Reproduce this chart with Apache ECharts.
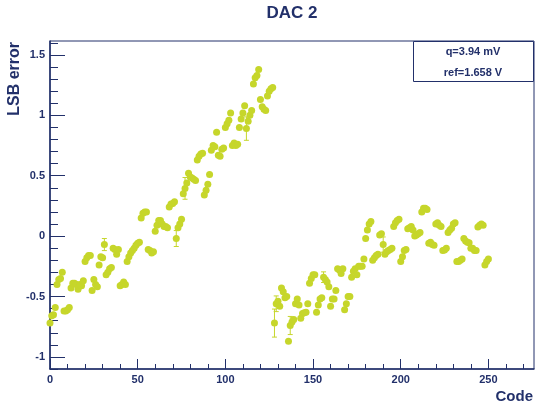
<!DOCTYPE html>
<html>
<head>
<meta charset="utf-8">
<script src="https://cdn.jsdelivr.net/npm/echarts@6/dist/echarts.min.js"></script>
<style>
  html, body { margin: 0; padding: 0; background: #ffffff; }
  #chart { width: 535px; height: 404px; }
</style>
</head>
<body>
<div id="chart"></div>
<script>
// Integral non-linearity of DAC 2: LSB error for each input code (0..250)
const lsbError = [
  -0.72, -0.66, -0.65, -0.59, -0.40, -0.36, -0.35, -0.30,   // 0-7
  -0.62, -0.62, -0.61, -0.59, -0.43, -0.39, -0.39, -0.40,   // 8-15
  -0.44, -0.40, -0.41, -0.37, -0.21, -0.18, -0.16, -0.16,   // 16-23
  -0.45, -0.36, -0.40, -0.42, -0.24, -0.17, -0.18, -0.07,   // 24-31
  -0.32, -0.30, -0.27, -0.26, -0.10, -0.11, -0.15, -0.11,   // 32-39
  -0.41, -0.40, -0.38, -0.40, -0.21, -0.17, -0.14, -0.12,   // 40-47
  -0.10, -0.075, -0.06, -0.05, 0.15, 0.19, 0.20, 0.20,      // 48-55
  -0.11, -0.12, -0.14, -0.13, 0.04, 0.09, 0.13, 0.13,       // 56-63
  0.10, 0.08, 0.08, 0.07, 0.24, 0.265, 0.27, 0.285,         // 64-71
  -0.02, 0.07, 0.10, 0.14, 0.35, 0.395, 0.44, 0.52,         // 72-79
  0.49, 0.48, 0.47, 0.46, 0.63, 0.66, 0.68, 0.685,          // 80-87
  0.34, 0.38, 0.43, 0.51, 0.71, 0.75, 0.74, 0.86,           // 88-95
  0.67, 0.66, 0.72, 0.73, 0.90, 0.93, 0.96, 1.02,           // 96-103
  0.75, 0.77, 0.75, 0.76, 0.90, 0.97, 1.02, 1.08,           // 104-111
  0.89, 0.95, 1.00, 1.04, 1.26, 1.31, 1.33, 1.38,           // 112-119
  1.13, 1.07, 1.05, 1.04, 1.16, 1.20, 1.22, 1.23,           // 120-127
  -0.72, -0.56, -0.54, -0.58, -0.43, -0.46, -0.51, -0.50,   // 128-135
  -0.87, -0.74, -0.71, -0.69, -0.56, -0.52, -0.57, -0.68,   // 136-143
  -0.64, -0.635, -0.63, -0.56, -0.39, -0.35, -0.32, -0.32,  // 144-151
  -0.63, -0.57, -0.52, -0.51, -0.34, -0.36, -0.38, -0.42,   // 152-159
  -0.58, -0.52, -0.52, -0.45, -0.27, -0.28, -0.31, -0.27,   // 160-167
  -0.61, -0.56, -0.50, -0.50, -0.34, -0.29, -0.27, -0.32,   // 168-175
  -0.25, -0.25, -0.25, -0.19, -0.02, 0.05, 0.10, 0.12,      // 176-183
  -0.20, -0.18, -0.16, -0.15, 0.01, 0.02, -0.07, -0.15,     // 184-191
  -0.13, -0.12, -0.11, -0.10, 0.08, 0.11, 0.13, 0.14,       // 192-199
  -0.21, -0.17, -0.12, -0.11, 0.06, 0.07, 0.08, 0.05,       // 200-207
  0.00, 0.01, 0.02, 0.03, 0.20, 0.23, 0.23, 0.22,           // 208-215
  -0.06, -0.05, -0.07, -0.075, 0.10, 0.11, 0.09, 0.08,      // 216-223
  -0.12, -0.115, -0.10, 0.03, 0.05, 0.065, 0.10, 0.11,      // 224-231
  -0.21, -0.21, -0.20, -0.19, -0.02, -0.04, -0.05, -0.055,  // 232-239
  -0.10, -0.10, -0.12, -0.12, 0.075, 0.09, 0.10, 0.09,      // 240-247
  -0.24, -0.21, -0.19                                       // 248-250
];
const codes = lsbError.map((_, i) => i);

// Codes whose uncertainty is large enough to show, with their sigma (LSB)
const errCodes = [31, 72, 77, 112, 128, 129, 137, 156, 190];
const errSigma = [0.05, 0.066, 0.09, 0.097, 0.116, 0.065, 0.075, 0.044, 0.063];

// Axis tick positions and labels
const xMajorTicks = [0, 50, 100, 150, 200, 250];
const xMinorTicks = [10, 20, 30, 40, 60, 70, 80, 90, 110, 120, 130, 140, 160, 170, 180, 190,
                     210, 220, 230, 240, 260, 270];
const yMajorTicks = [-1, -0.5, 0, 0.5, 1, 1.5];
const yMinorTicks = [-1.1, -0.9, -0.8, -0.7, -0.6, -0.4, -0.3, -0.2, -0.1, 0.1, 0.2, 0.3, 0.4,
                     0.6, 0.7, 0.8, 0.9, 1.1, 1.2, 1.3, 1.4, 1.6];

const titleText = 'DAC 2';
const xTitle = 'Code';
const yTitle = 'LSB error';
const infoLines = ['q=3.94 mV', 'ref=1.658 V'];

const NAVY = '#22306a';
const DOT = '#c6d62b';
const FONT = '"Liberation Sans", Arial, Helvetica, sans-serif';

const X_MIN = 0, X_MAX = 276;
const Y_MIN = -1.1, Y_MAX = 1.615;

const points = codes.map((c, i) => [c, lsbError[i]]);
const errBars = errCodes.map((c, i) => [c, lsbError[c], errSigma[i]]);

const chart = echarts.init(document.getElementById('chart'), null, { renderer: 'canvas' });

const labelStyle = { color: NAVY, fontFamily: FONT, fontWeight: 'bold', fontSize: 11 };

chart.setOption({
  animation: false,
  backgroundColor: '#ffffff',
  grid: {
    left: 50, right: 1, top: 41, bottom: 35,
    show: true, borderColor: NAVY, borderWidth: 1, backgroundColor: 'transparent'
  },
  xAxis: [
    {
      type: 'value', min: X_MIN, max: X_MAX, position: 'bottom',
      axisLine: { show: true, onZero: false, lineStyle: { color: NAVY, width: 1.5 } },
      axisTick: { show: true, inside: true, length: 10, customValues: xMajorTicks,
                  lineStyle: { color: NAVY, width: 1 } },
      axisLabel: Object.assign({ show: true, margin: 5, customValues: xMajorTicks }, labelStyle),
      splitLine: { show: false }
    },
    {
      type: 'value', min: X_MIN, max: X_MAX, position: 'bottom',
      axisLine: { show: false, onZero: false },
      axisTick: { show: true, inside: true, length: 5, customValues: xMinorTicks,
                  lineStyle: { color: NAVY, width: 1 } },
      axisLabel: { show: false },
      splitLine: { show: false }
    }
  ],
  yAxis: [
    {
      type: 'value', min: Y_MIN, max: Y_MAX, position: 'left',
      axisLine: { show: true, onZero: false, lineStyle: { color: NAVY, width: 1.5 } },
      axisTick: { show: true, inside: true, length: 15, customValues: yMajorTicks,
                  lineStyle: { color: NAVY, width: 1 } },
      axisLabel: Object.assign({ show: true, margin: 5, customValues: yMajorTicks,
                                 formatter: v => String(Math.round(v * 10) / 10) }, labelStyle),
      splitLine: { show: false }
    },
    {
      type: 'value', min: Y_MIN, max: Y_MAX, position: 'left',
      axisLine: { show: false, onZero: false },
      axisTick: { show: true, inside: true, length: 8, customValues: yMinorTicks,
                  lineStyle: { color: NAVY, width: 1 } },
      axisLabel: { show: false },
      splitLine: { show: false }
    }
  ],
  series: [
    {
      type: 'custom',
      xAxisIndex: 0, yAxisIndex: 0,
      data: errBars,
      z: 2,
      renderItem: function (params, api) {
        const c = api.value(0), v = api.value(1), s = api.value(2);
        const hi = api.coord([c, v + s]);
        const lo = api.coord([c, v - s]);
        const hw = 2.5;
        const st = { stroke: DOT, lineWidth: 1 };
        return {
          type: 'group',
          children: [
            { type: 'line', shape: { x1: hi[0], y1: hi[1], x2: lo[0], y2: lo[1] }, style: st },
            { type: 'line', shape: { x1: hi[0] - hw, y1: hi[1], x2: hi[0] + hw, y2: hi[1] }, style: st },
            { type: 'line', shape: { x1: lo[0] - hw, y1: lo[1], x2: lo[0] + hw, y2: lo[1] }, style: st }
          ]
        };
      }
    },
    {
      type: 'scatter',
      xAxisIndex: 0, yAxisIndex: 0,
      data: points,
      symbol: 'circle',
      symbolSize: 7,
      itemStyle: { color: DOT, opacity: 1 },
      z: 3
    }
  ],
  graphic: [
    {
      type: 'text', x: 292, y: 13, z: 10,
      style: { text: titleText, font: 'bold 17px ' + FONT, fill: NAVY,
               align: 'center', verticalAlign: 'middle',
               textAlign: 'center', textVerticalAlign: 'middle' }
    },
    {
      type: 'text', x: 15, y: 42, rotation: Math.PI / 2, z: 10,
      style: { text: yTitle, font: 'bold 16px ' + FONT, fill: NAVY,
               align: 'right', verticalAlign: 'middle',
               textAlign: 'right', textVerticalAlign: 'middle' }
    },
    {
      type: 'text', x: 533, y: 397, z: 10,
      style: { text: xTitle, font: 'bold 15px ' + FONT, fill: NAVY,
               align: 'right', verticalAlign: 'middle',
               textAlign: 'right', textVerticalAlign: 'middle' }
    },
    {
      type: 'rect', z: 10,
      shape: { x: 413.5, y: 41.5, width: 120, height: 40 },
      style: { fill: '#ffffff', stroke: NAVY, lineWidth: 1 }
    },
    {
      type: 'text', x: 473, y: 52, z: 11,
      style: { text: infoLines[0], font: 'bold 11px ' + FONT, fill: NAVY,
               align: 'center', verticalAlign: 'middle',
               textAlign: 'center', textVerticalAlign: 'middle' }
    },
    {
      type: 'text', x: 473, y: 73, z: 11,
      style: { text: infoLines[1], font: 'bold 11px ' + FONT, fill: NAVY,
               align: 'center', verticalAlign: 'middle',
               textAlign: 'center', textVerticalAlign: 'middle' }
    }
  ]
});
</script>
</body>
</html>
